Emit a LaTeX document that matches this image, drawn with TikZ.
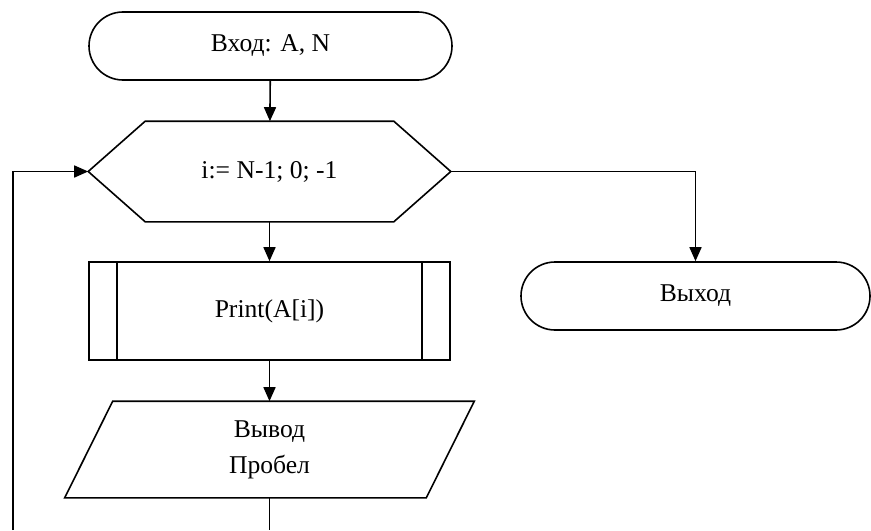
\documentclass[tikz,border=0pt]{standalone}
\usepackage{fontspec}
\setmainfont{Liberation Serif}
\usetikzlibrary{shapes.misc,arrows.meta}

\begin{document}
\begin{tikzpicture}[x=0.5pt,y=-0.5pt,line width=0.8pt,
  every node/.style={font=\fontsize{12.8}{18}\selectfont,inner sep=0pt},
  term/.style={rounded rectangle,draw,minimum height=34pt},
  block/.style={rectangle,minimum width=180.5pt},
  arr/.style={-{Triangle[length=7pt,width=6pt]}}]
\useasboundingbox (0,0) rectangle (871,530);
% terminals
\node[term,minimum width=181.5pt] (start) at (270.5,46) {Вход: A, N};
\node[term,minimum width=174.5pt] (exit) at (695.5,296) {Выход};
% loop header (hexagon)
\node[block,minimum height=49.5pt] (loop) at (269.5,171.5) {i:= N-1; 0; -1};
\draw (loop.west) -- ([xshift=28.5pt]loop.north west) -- ([xshift=-28.5pt]loop.north east)
  -- (loop.east) -- ([xshift=-28.5pt]loop.south east) -- ([xshift=28.5pt]loop.south west) -- cycle;
% subroutine call
\node[block,draw,minimum height=49pt] (body) at (269.5,311) {Print(A[i])};
\draw ([xshift=14.5pt]body.north west) -- ([xshift=14.5pt]body.south west);
\draw ([xshift=-14.5pt]body.north east) -- ([xshift=-14.5pt]body.south east);
% output (parallelogram)
\node[block,minimum width=180pt,minimum height=47.5pt,align=center] (out) at (269.5,449.5) {Вывод\\Пробел};
\draw ([xshift=12pt]out.north west) -- ([xshift=12pt]out.north east)
  -- ([xshift=-12pt]out.south east) -- ([xshift=-12pt]out.south west) -- cycle;
% connectors
\coordinate (bot) at (269.5,530);
\coordinate (back) at (13,530);
\draw[arr] (start) -- (loop);
\draw[arr] (loop) -- (body);
\draw[arr] (body) -- (out);
\draw (out) -- (bot);
\draw[arr] (back) |- (loop.west);
\draw[arr] (loop.east) -| (exit.north);
\end{tikzpicture}
\end{document}
